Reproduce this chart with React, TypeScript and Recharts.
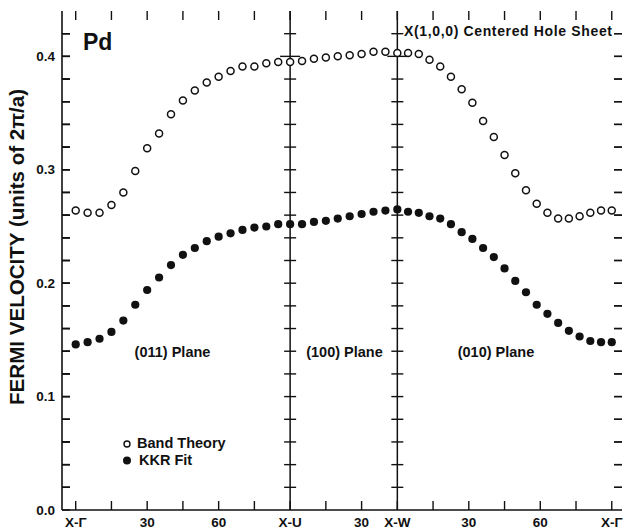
import React from "react";
import { ScatterChart, Scatter, XAxis, YAxis, ReferenceLine } from "recharts";

// angle along each path (degrees), three panels: (011) 0-90, (100) 90-135, (010) 135-225
const angles = [
  0, 5, 10, 15, 20, 25, 30, 35, 40, 45, 50, 55, 60, 65, 70, 75, 80, 85, 90,
  95, 100, 105, 110, 115, 120, 125, 130, 135,
  139.5, 144, 148.5, 153, 157.5, 162, 166.5, 171, 175.5, 180,
  184.5, 189, 193.5, 198, 202.5, 207, 211.5, 216, 220.5, 225,
];

const bandTheory = [
  0.264, 0.262, 0.262, 0.269, 0.28, 0.299, 0.319, 0.332, 0.349, 0.361, 0.37, 0.377, 0.382, 0.387, 0.391, 0.391, 0.394, 0.395, 0.395,
  0.396, 0.398, 0.399, 0.4, 0.401, 0.402, 0.404, 0.404, 0.403,
  0.403, 0.402, 0.397, 0.391, 0.382, 0.371, 0.359, 0.343, 0.329, 0.313,
  0.297, 0.282, 0.27, 0.262, 0.257, 0.257, 0.259, 0.262, 0.264, 0.264,
];

const kkrFit = [
  0.146, 0.148, 0.151, 0.157, 0.167, 0.181, 0.194, 0.205, 0.216, 0.225, 0.231, 0.237, 0.241, 0.244, 0.247, 0.249, 0.25, 0.252, 0.252,
  0.252, 0.254, 0.255, 0.257, 0.259, 0.261, 0.263, 0.264, 0.265,
  0.263, 0.262, 0.259, 0.257, 0.252, 0.245, 0.239, 0.231, 0.223, 0.213,
  0.202, 0.192, 0.181, 0.173, 0.165, 0.158, 0.153, 0.149, 0.148, 0.148,
];

const xTicks = [0, 15, 30, 45, 60, 75, 90, 105, 120, 135, 150, 165, 180, 195, 210, 225];
const xTickLabels: Record<number, string> = {
  0: "X-Γ", 30: "30", 60: "60", 90: "X-U", 120: "30", 135: "X-W", 165: "30", 195: "60", 225: "X-Γ",
};
const yTicks = [0, 0.02, 0.04, 0.06, 0.08, 0.1, 0.12, 0.14, 0.16, 0.18, 0.2, 0.22, 0.24, 0.26, 0.28, 0.3, 0.32, 0.34, 0.36, 0.38, 0.4, 0.42];
const yMajor = [0, 0.1, 0.2, 0.3, 0.4];
const yMajorLabels = ["0.0", "0.1", "0.2", "0.3", "0.4"];
const panelBreaks = [90, 135];

const X_DOMAIN = [-5.75, 229.3];
const Y_DOMAIN = [0, 0.44];

const INK = "#111";
const FONT = "'Liberation Sans', Arial, Helvetica, sans-serif";

// plot box in page pixels (chart margins + axis sizes below)
const PLOT = { left: 62, right: 622, top: 11, bottom: 510 };
const yPix = (v: number) => PLOT.bottom - ((v - Y_DOMAIN[0]) / (Y_DOMAIN[1] - Y_DOMAIN[0])) * (PLOT.bottom - PLOT.top);

const bandData = angles.map((a, i) => ({ x: a, y: bandTheory[i] }));
const kkrData = angles.map((a, i) => ({ x: a, y: kkrFit[i] }));

// tick marks as one glyph series, so they go through the chart scales
type TickPt = { x: number; y: number; kind: string };
const frameTicks: TickPt[] = [
  ...yTicks.filter((v) => v > 0).map((v) => ({ x: X_DOMAIN[0], y: v, kind: "left" })),
  ...yTicks.filter((v) => v > 0).map((v) => ({ x: X_DOMAIN[1], y: v, kind: "right" })),
  ...xTicks.map((t) => ({ x: t, y: Y_DOMAIN[0], kind: "bottom" })),
  ...xTicks.map((t) => ({ x: t, y: Y_DOMAIN[1], kind: "top" })),
  ...panelBreaks.flatMap((b) =>
    yTicks.filter((v) => v > 0).map((v) => ({ x: b, y: v, kind: Math.abs(v - 0.4) < 1e-9 ? "crossLong" : "cross" }))
  ),
];

const TICK_GEOM: Record<string, number[]> = {
  left: [0, 0, 8, 0],
  right: [0, 0, -8, 0],
  bottom: [0, 0, 0, -9],
  top: [0, 0, 0, 9],
  cross: [-6, 0, 6, 0],
  crossLong: [-10, 0, 10, 0],
};

const TickGlyph = (p: any) => {
  const [x1, y1, x2, y2] = TICK_GEOM[p.payload?.kind] || TICK_GEOM.cross;
  return (
    <path d={`M${p.cx + x1},${p.cy + y1}L${p.cx + x2},${p.cy + y2}`} stroke={INK} strokeWidth={1.4} fill="none" />
  );
};

function BottomTick({ x, y, payload }: any) {
  const label = xTickLabels[payload.value];
  if (!label) return <g />;
  return (
    <text x={x} y={y + 17} textAnchor="middle" fontFamily={FONT} fontWeight="bold" fontSize={13.5} fill={INK}>
      {label}
    </text>
  );
}

// tick lines point inward (negative tickSize), so the label x sits 8px inside the axis
function LeftTick({ x, y, payload }: any) {
  const idx = yMajor.findIndex((m) => Math.abs(m - payload.value) < 1e-9);
  if (idx < 0) return <g />;
  return (
    <text x={x - 15} y={y + 4.5} textAnchor="end" fontFamily={FONT} fontWeight="bold" fontSize={13.5} fill={INK}>
      {yMajorLabels[idx]}
    </text>
  );
}

const NoLabel = () => <g />;

const OpenDot = (p: any) => <circle cx={p.cx} cy={p.cy} r={3.5} fill="#fff" stroke={INK} strokeWidth={1.5} />;
const FilledDot = (p: any) => <circle cx={p.cx} cy={p.cy} r={4.1} fill={INK} />;

export default function App() {
  return (
    <div style={{ position: "absolute", left: 0, top: 0, width: 624, height: 531, background: "#fff" }}>
      <ScatterChart width={624} height={531} margin={{ top: 11, right: 2, bottom: 0, left: 12 }}>
        <XAxis
          type="number"
          dataKey="x"
          domain={X_DOMAIN}
          allowDataOverflow
          ticks={xTicks}
          interval={0}
          height={21}
          tickSize={0}
          tickMargin={0}
          tickLine={false}
          axisLine={{ stroke: INK, strokeWidth: 1.6 }}
          tick={BottomTick}
        />
        <XAxis
          xAxisId="top"
          orientation="top"
          type="number"
          dataKey="x"
          domain={X_DOMAIN}
          allowDataOverflow
          height={0}
          tick={false}
          tickLine={false}
          axisLine={{ stroke: INK, strokeWidth: 1.6 }}
        />
        <YAxis
          type="number"
          dataKey="y"
          domain={Y_DOMAIN}
          allowDataOverflow
          ticks={yTicks}
          interval={0}
          width={50}
          tickSize={-8}
          tickMargin={0}
          tickLine={{ stroke: INK, strokeWidth: 1.4 }}
          axisLine={{ stroke: INK, strokeWidth: 1.6 }}
          tick={LeftTick}
        />
        <YAxis
          yAxisId="right"
          orientation="right"
          type="number"
          domain={Y_DOMAIN}
          allowDataOverflow
          ticks={yTicks}
          interval={0}
          width={0}
          tickSize={-8}
          tickMargin={0}
          tickLine={{ stroke: INK, strokeWidth: 1.4 }}
          axisLine={{ stroke: INK, strokeWidth: 1.6 }}
          tick={NoLabel}
        />

        {panelBreaks.map((b) => (
          <ReferenceLine key={`b${b}`} x={b} stroke={INK} strokeWidth={1.5} />
        ))}

        <Scatter data={frameTicks} shape={TickGlyph} isAnimationActive={false} legendType="none" />

        <Scatter name="Band Theory" data={bandData} shape={OpenDot} isAnimationActive={false} />
        <Scatter name="KKR Fit" data={kkrData} shape={FilledDot} isAnimationActive={false} />
      </ScatterChart>

      <svg
        width={624}
        height={531}
        style={{ position: "absolute", left: 0, top: 0, pointerEvents: "none" }}
        fontFamily={FONT}
        fontWeight="bold"
        fill={INK}
      >
        {/* side-frame minor ticks */}
        {yTicks
          .filter((v) => v > 0)
          .map((v) => (
            <g key={`ft${v}`} stroke={INK} strokeWidth={1.4}>
              <line x1={PLOT.left} y1={yPix(v)} x2={PLOT.left + 8} y2={yPix(v)} />
              <line x1={PLOT.right - 8} y1={yPix(v)} x2={PLOT.right} y2={yPix(v)} />
            </g>
          ))}

        <text x={83} y={50} fontSize={23}>Pd</text>
        <text x={404} y={35.5} fontSize={14} textLength={208} lengthAdjust="spacing">
          X(1,0,0) Centered Hole Sheet
        </text>
        <text x={172.5} y={357} fontSize={14.5} textAnchor="middle">(011) Plane</text>
        <text x={344.5} y={357} fontSize={14.5} textAnchor="middle">(100) Plane</text>
        <text x={496} y={357} fontSize={14.5} textAnchor="middle">(010) Plane</text>

        <circle cx={127} cy={444} r={3} fill="#fff" stroke={INK} strokeWidth={1.4} />
        <text x={137} y={448} fontSize={14.5}>Band Theory</text>
        <circle cx={127} cy={460.5} r={4} fill={INK} />
        <text x={139} y={464.5} fontSize={14.5}>KKR Fit</text>

        <text
          transform="translate(24,247) rotate(-90)"
          textAnchor="middle"
          fontSize={20}
          textLength={316}
          lengthAdjust="spacingAndGlyphs"
        >
          FERMI VELOCITY (units of 2π/a)
        </text>
      </svg>
    </div>
  );
}
